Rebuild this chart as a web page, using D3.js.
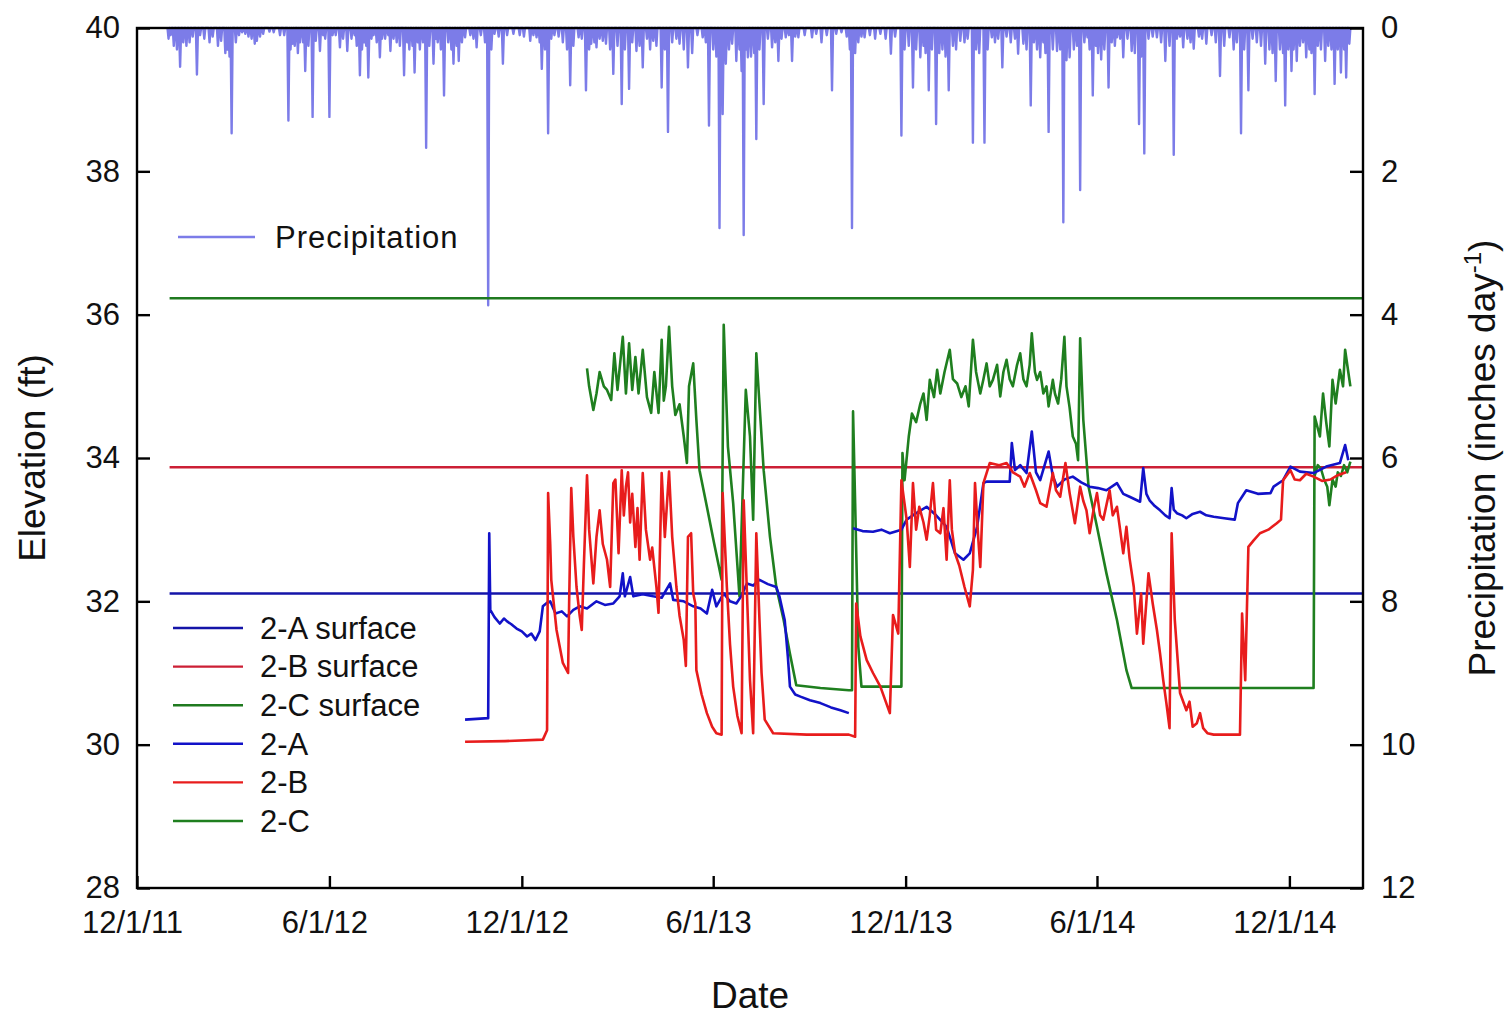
<!DOCTYPE html>
<html>
<head>
<meta charset="utf-8">
<script src="https://cdn.jsdelivr.net/npm/d3@7"></script>
<style>
  body { margin: 0; background: #fff; }
  svg text { font-family: "Liberation Sans", Arial, sans-serif; fill: #111; }
</style>
</head>
<body>
<svg id="chart" width="1505" height="1015"></svg>
<script>
// day counts are measured from 12/1/11
var startDate = new Date(Date.UTC(2011, 11, 1));
var lastDay = 1166;
var dateTicks = ["2011-12-01", "2012-06-01", "2012-12-01", "2013-06-01", "2013-12-01", "2014-06-01", "2014-12-01"];
var elevTicks = [28, 30, 32, 34, 36, 38, 40];
var precipTicks = [0, 2, 4, 6, 8, 10, 12];

// ground surface elevations (ft)
var surface2A = 32.11, surface2B = 33.87, surface2C = 36.23;
var surfaceFrom = 31;

// daily precipitation [day, inches], larger events
var precip = [
  [30,0.15],[35,0.25],[41,0.54],[47,0.25],[50,0.2],[57,0.65],[64,0.15],[69,0.2],[77,0.25],[84,0.35],
  [88,0.4],[90,1.47],[94,0.2],[103,0.08],[109,0.15],[112,0.22],[117,0.12],[126,0.05],[136,0.1],[144,1.29],
  [146,0.3],[150,0.25],[155,0.2],[160,0.6],[167,1.24],[174,0.32],[179,0.15],[183,1.24],[189,0.1],[193,0.27],
  [200,0.32],[204,0.15],[212,0.66],[216,0.2],[220,0.69],[225,0.1],[231,0.41],[236,0.15],[241,0.32],[247,0.2],
  [254,0.66],[259,0.3],[264,0.62],[269,0.3],[275,1.67],[282,0.5],[286,0.2],[292,0.94],[301,0.5],[306,0.46],
  [312,0.13],[317,0.1],[323,0.27],[334,3.87],[340,0.08],[348,0.5],[364,0.1],[374,0.18],[380,0.13],[385,0.57],
  [391,1.47],[397,0.1],[412,0.8],[420,0.13],[427,0.87],[432,0.22],[437,0.27],[443,0.18],[453,0.64],[461,1.06],
  [468,0.85],[475,0.32],[481,0.55],[491,0.18],[499,0.83],[505,1.45],[516,0.22],[524,0.55],[538,0.13],[544,1.36],
  [554,2.79],[557,1.2],[566,0.22],[570,0.46],[577,2.89],[581,0.41],[589,1.55],[596,1.06],[604,0.27],[610,0.46],
  [617,0.13],[623,0.46],[629,0.13],[642,0.13],[651,0.2],[661,0.87],[680,2.79],[692,0.13],[702,0.15],[717,0.36],
  [727,1.5],[738,0.83],[745,0.41],[753,0.87],[760,1.34],[772,0.87],[783,0.18],[795,1.6],[806,1.6],[813,0.13],
  [823,0.55],[838,0.36],[843,0.22],[850,1.08],[859,0.41],[867,1.45],[875,0.32],[881,2.71],[887,0.41],[897,2.26],
  [904,0.13],[909,0.94],[917,0.44],[924,0.83],[932,0.13],[938,0.41],[946,0.32],[953,1.34],[958,1.75],[970,0.13],
  [978,0.46],[986,1.77],[995,0.27],[1005,0.29],[1017,0.22],[1030,0.67],[1039,0.13],[1050,1.47],[1057,0.87],[1065,0.2],
  [1073,0.5],[1083,0.74],[1092,1.08],[1098,0.6],[1103,0.46],[1112,0.41],[1120,0.92],[1130,0.46],[1139,0.78],[1145,0.62],
  [1150,0.69],[1153,0.22]
];
// smaller daily totals filling the band under the top axis
var precipSmall = [
  [32,0.1],[38,0.3],[44,0.2],[53,0.12],[60,0.1],[72,0.12],[80,0.18],[86,0.3],[97,0.1],[100,0.06],
  [106,0.12],[114,0.18],[120,0.08],[130,0.06],[140,0.1],[148,0.22],[153,0.35],[158,0.2],[163,0.25],[170,0.18],
  [177,0.1],[186,0.1],[196,0.15],[207,0.1],[209,0.25],[214,0.3],[218,0.25],[223,0.15],[228,0.2],[233,0.15],
  [239,0.1],[244,0.15],[250,0.25],[257,0.2],[262,0.25],[267,0.2],[272,0.2],[278,0.25],[284,0.15],[289,0.3],
  [296,0.2],[299,0.3],[304,0.25],[309,0.2],[320,0.15],[327,0.1],[331,0.2],[337,0.3],[344,0.12],[352,0.1],
  [358,0.08],[368,0.12],[377,0.1],[383,0.2],[388,0.3],[394,0.15],[401,0.12],[405,0.2],[409,0.3],[415,0.25],
  [423,0.15],[430,0.3],[435,0.2],[440,0.15],[446,0.22],[450,0.3],[457,0.25],[464,0.3],[471,0.2],[478,0.25],
  [485,0.15],[488,0.3],[494,0.25],[502,0.3],[509,0.2],[513,0.15],[520,0.3],[528,0.35],[533,0.1],[541,0.2],
  [548,0.3],[551,0.4],[560,0.5],[563,0.3],[573,0.3],[575,0.6],[579,0.3],[584,0.4],[587,0.35],[592,0.3],
  [600,0.15],[607,0.2],[613,0.15],[620,0.1],[626,0.12],[635,0.1],[646,0.08],[656,0.1],[665,0.08],[670,0.06],
  [675,0.12],[678,0.3],[683,0.35],[686,0.2],[689,0.12],[697,0.1],[707,0.08],[712,0.15],[721,0.12],[730,0.3],
  [734,0.25],[741,0.3],[748,0.25],[750,0.35],[756,0.3],[763,0.35],[766,0.3],[769,0.4],[776,0.25],[779,0.3],
  [787,0.2],[790,0.15],[798,0.3],[801,0.35],[809,0.3],[816,0.2],[819,0.15],[827,0.12],[831,0.2],[835,0.15],
  [846,0.3],[853,0.2],[856,0.3],[862,0.2],[864,0.35],[871,0.3],[878,0.3],[884,0.45],[891,0.3],[894,0.25],
  [901,0.2],[906,0.3],[912,0.25],[914,0.35],[920,0.3],[927,0.2],[930,0.25],[935,0.15],[942,0.15],[949,0.35],
  [955,0.4],[962,0.15],[966,0.12],[974,0.2],[982,0.25],[989,0.15],[992,0.12],[999,0.15],[1002,0.2],[1010,0.12],
  [1013,0.15],[1022,0.1],[1026,0.2],[1034,0.25],[1043,0.3],[1046,0.2],[1053,0.3],[1061,0.15],[1069,0.25],[1077,0.3],
  [1080,0.35],[1087,0.3],[1090,0.35],[1095,0.3],[1100,0.3],[1106,0.25],[1109,0.2],[1115,0.3],[1117,0.35],[1123,0.25],
  [1126,0.3],[1133,0.25],[1136,0.3],[1142,0.3],[1148,0.3]
];

// water level [day, ft]; null breaks the line
var well2A = [
  [312,30.35],[334,30.37],[335,32.95],[336,31.88],[340,31.78],[345,31.69],[349,31.76],[352,31.72],[356,31.68],[361,31.62],
  [366,31.58],[371,31.51],[375,31.55],[379,31.46],[383,31.58],[386,31.93],[390,31.98],[393,32.0],[398,31.83],[404,31.86],
  [409,31.79],[415,31.88],[421,31.93],[428,31.9],[437,32.0],[445,31.95],[453,31.97],[459,32.07],[462,32.39],[464,32.07],
  [469,32.34],[472,32.07],[481,32.1],[491,32.07],[499,32.05],[507,32.25],[510,32.02],[520,32.0],[529,31.93],[536,31.9],
  [542,31.83],[547,32.16],[551,31.93],[558,32.11],[564,32.0],[570,31.97],[575,32.08],[580,32.25],[586,32.22],[592,32.30],
  [600,32.24],[608,32.20],[611,32.07],[616,31.74],[619,31.23],[621,30.81],[626,30.7],[631,30.67],[640,30.62],[650,30.58],
  [660,30.52],[669,30.48],[677,30.44],[679,null],
  [681,33.02],[690,32.98],[700,32.97],[708,33.0],[716,32.95],[727,33.0],[732,33.14],[740,33.22],[751,33.32],[760,33.2],
  [770,33.04],[778,32.67],[786,32.58],[792,32.67],[799,33.04],[805,33.65],[808,33.67],[830,33.67],[832,34.21],[835,33.83],
  [840,33.9],[846,33.79],[851,34.37],[855,33.8],[859,33.69],[867,34.09],[871,33.75],[875,33.60],[882,33.7],[890,33.74],
  [898,33.66],[906,33.60],[914,33.58],[922,33.55],[932,33.65],[938,33.5],[944,33.46],[954,33.39],[957,33.86],[960,33.5],
  [963,33.41],[968,33.33],[973,33.27],[978,33.2],[982,33.16],[984,33.58],[986,33.28],[989,33.23],[994,33.2],[998,33.16],
  [1004,33.22],[1011,33.25],[1017,33.2],[1024,33.18],[1034,33.16],[1044,33.14],[1047,33.37],[1055,33.55],[1066,33.5],[1078,33.51],
  [1081,33.60],[1090,33.69],[1097,33.88],[1106,33.81],[1119,33.79],[1131,33.88],[1144,33.93],[1149,34.18],[1152,33.97]
];
var well2B = [
  [312,30.04],[350,30.05],[386,30.07],[390,30.20],[391,33.51],[393,32.8],[394,32.30],[399,31.60],[405,31.14],[410,31.0],
  [411,32.0],[413,33.58],[415,32.9],[418,32.20],[421,31.8],[423,31.6],[425,32.5],[428,33.76],[430,33.0],[434,32.25],
  [437,32.90],[440,33.27],[443,32.8],[447,32.58],[450,32.2],[453,33.65],[455,33.7],[458,32.67],[461,33.83],[463,33.2],
  [465,33.6],[467,33.8],[469,33.1],[471,33.5],[474,32.76],[476,33.3],[478,32.58],[481,33.79],[484,33.0],[488,32.58],
  [490,32.75],[494,32.2],[496,31.84],[499,33.79],[502,32.9],[506,33.81],[509,32.9],[513,32.2],[516,31.8],[520,31.46],
  [522,31.1],[524,32.9],[527,32.95],[529,32.11],[531,31.97],[532,31.04],[537,30.7],[542,30.44],[547,30.25],[551,30.16],
  [556,30.14],[557,33.51],[561,32.20],[564,31.4],[567,30.81],[571,30.4],[575,30.16],[577,33.41],[581,31.74],[583,30.9],
  [586,30.16],[589,32.95],[592,31.74],[594,31.0],[597,30.35],[605,30.16],[637,30.14],[677,30.14],[683,30.11],[684,31.97],
  [688,31.51],[694,31.18],[700,31.0],[707,30.81],[716,30.44],[719,31.81],[724,31.55],[727,33.69],[732,33.14],[735,32.48],
  [738,33.65],[741,33.0],[744,33.32],[748,33.1],[751,32.86],[754,33.2],[757,33.65],[760,33.0],[764,32.95],[767,33.3],
  [770,32.58],[773,33.69],[775,33.0],[778,32.67],[782,32.5],[787,32.20],[792,31.93],[795,32.44],[797,33.65],[800,32.9],
  [802,32.48],[805,33.65],[811,33.93],[820,33.9],[827,33.93],[833,33.8],[840,33.74],[844,33.6],[849,33.79],[855,33.55],
  [859,33.37],[865,33.32],[871,33.79],[874,33.55],[878,33.46],[883,33.93],[887,33.51],[892,33.09],[897,33.60],[900,33.4],
  [903,33.27],[906,32.95],[910,33.3],[913,33.51],[916,33.2],[919,33.14],[925,33.55],[928,33.2],[932,33.32],[935,33.0],
  [938,32.67],[941,33.04],[944,32.6],[948,32.20],[951,31.55],[955,32.11],[957,31.41],[962,32.39],[966,31.97],[970,31.6],
  [973,31.27],[976,30.9],[979,30.58],[982,30.23],[984,32.95],[987,31.74],[992,30.72],[998,30.48],[1001,30.6],[1004,30.25],
  [1008,30.3],[1011,30.44],[1014,30.23],[1018,30.16],[1024,30.14],[1049,30.14],[1051,31.83],[1054,30.90],[1057,32.76],[1062,32.85],
  [1068,32.95],[1076,33.0],[1084,33.09],[1088,33.14],[1090,33.69],[1097,33.83],[1101,33.7],[1106,33.69],[1112,33.78],[1119,33.74],
  [1127,33.68],[1135,33.70],[1142,33.76],[1150,33.80]
];
var well2C = [
  [428,35.25],[430,35.0],[434,34.67],[437,34.9],[440,35.2],[444,35.0],[447,34.95],[451,34.81],[454,35.46],[457,34.95],
  [462,35.69],[465,34.9],[468,35.6],[471,34.95],[474,35.41],[477,34.9],[481,35.51],[485,34.85],[489,34.63],[492,35.2],
  [496,34.63],[499,35.65],[501,34.8],[503,35.0],[506,35.83],[509,35.0],[512,34.6],[516,34.75],[520,34.30],[523,33.93],
  [525,35.0],[529,35.32],[532,34.53],[535,33.83],[542,33.32],[549,32.8],[556,32.30],[558,35.86],[562,34.16],[567,33.37],
  [573,32.07],[579,34.95],[583,34.30],[586,33.14],[589,35.46],[592,34.76],[596,33.83],[602,32.90],[608,32.20],[615,31.74],
  [621,31.27],[627,30.83],[650,30.79],[677,30.76],[680,30.76],[681,34.65],[683,33.37],[686,31.37],[689,30.81],[727,30.81],
  [728,34.07],[730,33.69],[734,34.3],[737,34.62],[741,34.5],[745,34.76],[748,34.9],[751,34.53],[754,35.09],[758,34.85],
  [761,35.23],[764,34.90],[768,35.2],[773,35.51],[776,35.1],[780,35.04],[784,34.85],[788,35.0],[791,34.72],[795,35.65],
  [798,35.2],[802,34.90],[805,35.1],[808,35.32],[811,35.0],[814,35.09],[818,35.3],[821,34.86],[824,35.2],[827,35.37],
  [830,35.1],[833,35.0],[837,35.3],[840,35.46],[843,35.1],[846,35.0],[849,35.3],[851,35.74],[854,35.2],[856,35.09],
  [859,35.2],[862,34.90],[865,35.0],[867,34.72],[871,35.09],[873,34.9],[876,34.76],[879,35.1],[882,35.69],[884,35.0],
  [887,34.7],[890,34.30],[893,34.2],[895,33.97],[897,35.67],[900,34.53],[905,33.60],[913,33.04],[922,32.39],[932,31.74],
  [941,31.04],[946,30.79],[1119,30.79],[1120,34.58],[1125,34.30],[1128,34.90],[1131,34.5],[1134,34.16],[1137,35.09],[1140,34.76],
  [1144,35.23],[1147,35.0],[1149,35.51],[1152,35.2],[1154,35.0],[1155,null],
  [1120,33.75],[1123,33.9],[1126,33.85],[1129,33.7],[1132,33.60],[1134,33.34],[1137,33.70],[1140,33.6],[1142,33.80],[1145,33.75],
  [1148,33.90],[1151,33.8],[1154,33.95]
];

var legendNames = ["2-A surface", "2-B surface", "2-C surface", "2-A", "2-B", "2-C"];
var legendColors = ["#1414a8", "#cc1f35", "#1f7a1f", "#1212c8", "#e81c1c", "#1f7f1f"];
var precipColor = "#7c7ce8";

var margin = {top: 28, right: 142, bottom: 127, left: 137};
var width = 1505 - margin.left - margin.right;
var height = 1015 - margin.top - margin.bottom;

var svg = d3.select('#chart');
var g = svg.append('g').attr('transform', 'translate(' + margin.left + ',' + margin.top + ')');

function dayDate(d) { return d3.utcDay.offset(startDate, d); }

var x = d3.scaleUtc().domain([startDate, dayDate(lastDay)]).range([0, width]);
var y = d3.scaleLinear().domain([28, 40]).range([height, 0]);
var y2 = d3.scaleLinear().domain([0, 12]).range([0, height]);

//precipitation drawn as a daily line that drops back to zero between wet days
var rain = precip.concat(precipSmall).sort(function(a, b) { return a[0] - b[0]; });
var precipPts = [];
rain.forEach(function(p, i) {
  var prev = i > 0 ? rain[i - 1][0] : -99;
  if (p[0] - prev > 1) precipPts.push([p[0] - 1, 0]);
  precipPts.push(p);
  var next = i < rain.length - 1 ? rain[i + 1][0] : 9999;
  if (next - p[0] > 1) precipPts.push([p[0] + 1, 0]);
});

var precipLine = d3.line()
  .x(function(d) { return x(dayDate(d[0])); })
  .y(function(d) { return y2(d[1]); });

g.append('path').datum(precipPts)
  .attr('d', precipLine)
  .attr('fill', precipColor).attr('fill-opacity', 0.6)
  .attr('stroke', precipColor).attr('stroke-width', 2.4)
  .attr('stroke-linejoin', 'round');

var line = d3.line()
  .defined(function(d) { return d[1] != null; })
  .x(function(d) { return x(dayDate(d[0])); })
  .y(function(d) { return y(d[1]); });

// surface reference lines
[surface2C, surface2B, surface2A].forEach(function(s, i) {
  var c = [legendColors[2], legendColors[1], legendColors[0]][i];
  g.append('path').datum([[surfaceFrom, s], [lastDay, s]])
    .attr('d', line).attr('fill', 'none')
    .attr('stroke', c).attr('stroke-width', 2.4);
});

g.append('path').datum(well2C).attr('d', line).attr('fill', 'none')
  .attr('stroke', legendColors[5]).attr('stroke-width', 2.6).attr('stroke-linejoin', 'round');
g.append('path').datum(well2A).attr('d', line).attr('fill', 'none')
  .attr('stroke', legendColors[3]).attr('stroke-width', 2.6).attr('stroke-linejoin', 'round');
g.append('path').datum(well2B).attr('d', line).attr('fill', 'none')
  .attr('stroke', legendColors[4]).attr('stroke-width', 2.6).attr('stroke-linejoin', 'round');

// frame
g.append('rect').attr('width', width).attr('height', height)
  .attr('fill', 'none').attr('stroke', '#000').attr('stroke-width', 2.4);

//axes, ticks point inward
var xAxis = d3.axisBottom(x)
  .tickValues(dateTicks.map(function(s) { return new Date(s + 'T00:00:00Z'); }))
  .tickFormat(d3.utcFormat('%-m/%-d/%y'))
  .tickSize(-12).tickSizeOuter(0).tickPadding(23);
var yAxis = d3.axisLeft(y).tickValues(elevTicks).tickSize(-13).tickSizeOuter(0).tickPadding(17);
var y2Axis = d3.axisRight(y2).tickValues(precipTicks).tickSize(-13).tickSizeOuter(0).tickPadding(18);

function styleAxis(sel) {
  sel.select('.domain').remove();
  sel.selectAll('line').attr('stroke', '#000').attr('stroke-width', 2.4);
  sel.selectAll('text').attr('font-size', 31).attr('fill', '#111')
    .style('font-family', '"Liberation Sans", Arial, sans-serif');
}

g.append('g').attr('transform', 'translate(0,' + height + ')').call(xAxis).call(styleAxis)
  .selectAll('text').attr('dx', -5);
g.append('g').call(yAxis).call(styleAxis);
g.append('g').attr('transform', 'translate(' + width + ',0)').call(y2Axis).call(styleAxis);

// axis titles
svg.append('text').attr('x', 750).attr('y', 1008).attr('text-anchor', 'middle')
  .attr('font-size', 37).text('Date');
svg.append('text').attr('transform', 'translate(45,458) rotate(-90)').attr('text-anchor', 'middle')
  .attr('font-size', 37).text('Elevation (ft)');
var rt = svg.append('text').attr('transform', 'translate(1495,458) rotate(-90)').attr('text-anchor', 'middle')
  .attr('font-size', 37);
rt.append('tspan').text('Precipitation (inches day');
rt.append('tspan').attr('font-size', 24).attr('dy', -14).text('-1');
rt.append('tspan').attr('dy', 14).text(')');

// legends
var lg1 = svg.append('g').attr('transform', 'translate(178,237)');
lg1.append('line').attr('x1', 0).attr('x2', 77).attr('stroke', precipColor).attr('stroke-width', 2.4);
lg1.append('text').attr('x', 97).attr('dy', '0.35em').attr('font-size', 31)
  .attr('letter-spacing', 1).text('Precipitation');

var lg2 = svg.append('g').attr('transform', 'translate(173,628)');
legendNames.forEach(function(n, i) {
  var row = lg2.append('g').attr('transform', 'translate(0,' + (i * 38.6) + ')');
  row.append('line').attr('x1', 0).attr('x2', 70).attr('stroke', legendColors[i]).attr('stroke-width', 2.4);
  row.append('text').attr('x', 87).attr('dy', '0.35em').attr('font-size', 31).text(n);
});
</script>
</body>
</html>
